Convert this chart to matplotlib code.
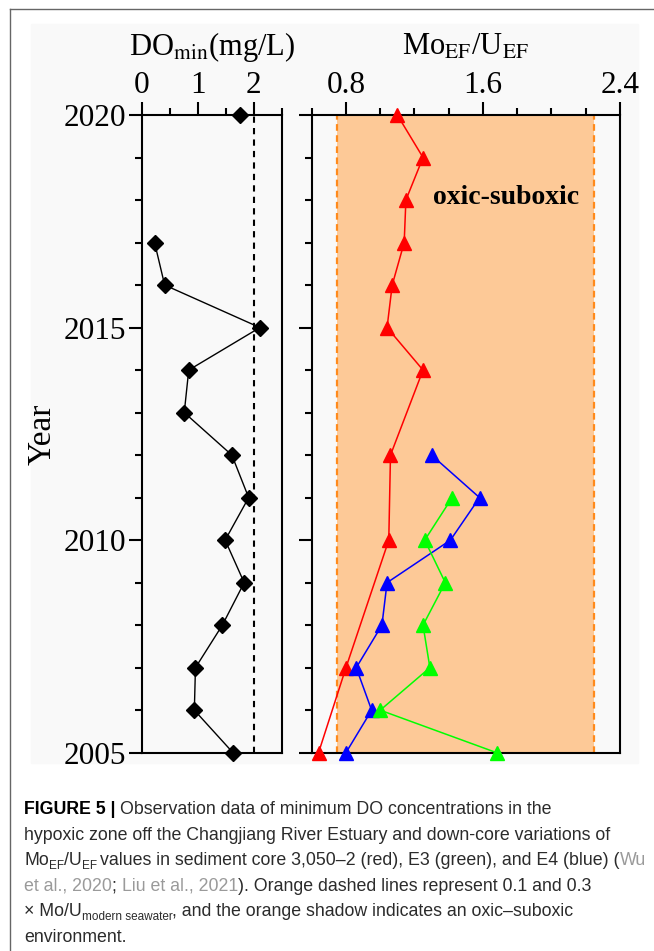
import numpy as np
import matplotlib.pyplot as plt
from matplotlib.patches import Rectangle
from matplotlib.lines import Line2D
from matplotlib.ticker import MultipleLocator, FixedLocator

plt.rcParams['font.family'] = 'Liberation Serif'
plt.rcParams['mathtext.fontset'] = 'stix'

# minimum DO observations (mg/L); 2018-2019 not observed
years_do = [2020, 2019, 2018, 2017, 2016, 2015, 2014, 2013,
            2012, 2011, 2010, 2009, 2008, 2007, 2006, 2005]
do_min = [1.76, np.nan, np.nan, 0.23, 0.41, 2.11, 0.84, 0.76,
          1.61, 1.91, 1.49, 1.83, 1.44, 0.96, 0.94, 1.63]
do_hypoxia = 2.0

# Mo_EF/U_EF, core 3050-2 (red)
years_red = [2020, 2019, 2018, 2017, 2016, 2015, 2014, 2012, 2010, 2007, 2005]
mou_red = [1.10, 1.25, 1.15, 1.14, 1.07, 1.04, 1.25, 1.06, 1.05, 0.80, 0.64]

# core E4 (blue)
years_blue = [2012, 2011, 2010, 2009, 2008, 2007, 2006, 2005]
mou_blue = [1.30, 1.58, 1.41, 1.04, 1.01, 0.86, 0.95, 0.80]

# core E3 (green)
years_green = [2011, 2010, 2009, 2008, 2007, 2006, 2005]
mou_green = [1.42, 1.26, 1.38, 1.25, 1.29, 1.00, 1.68]

# 0.1 and 0.3 x Mo/U of modern seawater
oxic_low, oxic_high = 0.75, 2.25

W, H = 654, 951
fig = plt.figure(figsize=(W / 100, H / 100), dpi=100)
fig.patch.set_facecolor('white')


def px(x, y):
    return x / W, 1 - y / H


# outer frame and grey plot panel
fig.add_artist(Line2D([9.5 / W, 1], [1 - 8.5 / H] * 2, color='#666666', lw=1.0))
fig.add_artist(Line2D([9.5 / W] * 2, [0, 1 - 8.5 / H], color='#666666', lw=1.0))
fig.add_artist(Rectangle(px(31, 763), (638 - 31) / W, (763 - 24) / H,
                         transform=fig.transFigure, color='#f9f9f9', zorder=0))

ax_top, ax_bot = 115, 752.7
ax1 = fig.add_axes([141.7 / W, 1 - ax_bot / H, 140 / W, (ax_bot - ax_top) / H])
ax2 = fig.add_axes([311.7 / W, 1 - ax_bot / H, 308.3 / W, (ax_bot - ax_top) / H])

for ax in (ax1, ax2):
    ax.set_facecolor('none')
    ax.set_ylim(2005, 2020)
    ax.xaxis.tick_top()
    ax.yaxis.set_major_locator(MultipleLocator(5))
    ax.yaxis.set_minor_locator(MultipleLocator(1))
    ax.tick_params(which='major', direction='out', length=9.5, width=1.5,
                   labelsize=22.5, pad=1.5, colors='black')
    ax.tick_params(which='minor', direction='out', length=5, width=1.5)
    for sp in ax.spines.values():
        sp.set_linewidth(1.5)

# DO panel
ax1.set_xlim(0, 2.5)
ax1.xaxis.set_major_locator(MultipleLocator(1))
ax1.xaxis.set_minor_locator(MultipleLocator(0.5))
ax1.axvline(do_hypoxia, color='black', ls=(0, (3, 2.5)), lw=1.5)
ax1.plot(do_min, years_do, color='black', lw=1.0, marker='D', ms=8.5,
         clip_on=False, zorder=5)

# Mo/U panel
ax2.set_xlim(0.6, 2.4)
ax2.xaxis.set_major_locator(FixedLocator([0.8, 1.6, 2.4]))
ax2.xaxis.set_minor_locator(FixedLocator(np.arange(0.6, 2.41, 0.2)))
ax2.tick_params(axis='y', labelleft=False)
ax2.axvspan(oxic_low, oxic_high, color='#fdc997', lw=0, zorder=0)
for xv in (oxic_low, oxic_high):
    ax2.axvline(xv, color='#ff8a1c', ls=(0, (3, 2)), lw=1.6, zorder=1)
ax2.plot(mou_red, years_red, color='#ff0000', lw=1.1, marker='^', ms=10.5,
         clip_on=False, zorder=5)
ax2.plot(mou_blue, years_blue, color='#0000ff', lw=1.1, marker='^', ms=10.5,
         clip_on=False, zorder=6)
ax2.plot(mou_green, years_green, color='#00ff00', lw=1.1, marker='^', ms=10.5,
         clip_on=False, zorder=7)
ax2.text(1.31, 2018.05, 'oxic-suboxic', fontsize=20, fontweight='bold',
         va='center', ha='left')

# panel titles and y label
fig.text(*px(211.7, 55), r'DO$_{\rm min}$(mg/L)', fontsize=22, ha='center', va='baseline')
fig.text(*px(465.8, 55), r'Mo$_{\rm EF}$/U$_{\rm EF}$', fontsize=22, ha='center', va='baseline')
fig.text(*px(42, 434), 'Year', fontsize=24, rotation=90, ha='center', va='center')

# caption, drawn piece by piece so colours and subscripts can change mid-line
renderer = fig.canvas.get_renderer()
CAP_FONT = 'Liberation Sans'
CAP_SIZE = 12.8
styles = {
    'b': dict(color='black', fontweight='bold', fontsize=CAP_SIZE),
    'n': dict(color='#2b2b2b', fontsize=CAP_SIZE),
    'g': dict(color='#9a9a9a', fontsize=CAP_SIZE),
    'sub': dict(color='#2b2b2b', fontsize=CAP_SIZE * 0.66),
}


def run_width(s, kw):
    t = fig.text(0, 0, s + '|', family=CAP_FONT, **kw)
    w = t.get_window_extent(renderer).width
    t.set_text('|')
    w -= t.get_window_extent(renderer).width
    t.remove()
    return w


def caption_line(y, runs):
    x = 24
    for s, kind in runs:
        kw = styles[kind]
        dy = 3.5 if kind == 'sub' else 0
        fig.text(*px(x, y + dy), s, family=CAP_FONT, va='baseline', ha='left', **kw)
        x += run_width(s, kw)


caption = [
    [('FIGURE 5 | ', 'b'), ('Observation data of minimum DO concentrations in the', 'n')],
    [('hypoxic zone off the Changjiang River Estuary and down-core variations of', 'n')],
    [('Mo', 'n'), ('EF', 'sub'), ('/U', 'n'), ('EF ', 'sub'),
     ('values in sediment core 3,050\u20132 (red), E3 (green), and E4 (blue) (', 'n'),
     ('Wu', 'g')],
    [('et al., 2020', 'g'), ('; ', 'n'), ('Liu et al., 2021', 'g'),
     ('). Orange dashed lines represent 0.1 and 0.3', 'n')],
    [('\u00d7 Mo/U', 'n'), ('modern seawater', 'sub'),
     (', and the orange shadow indicates an oxic\u2013suboxic', 'n')],
    [('environment.', 'n')],
]
for i, runs in enumerate(caption):
    caption_line(814 + i * 25.6, runs)

fig.savefig('out.png', dpi=100)
